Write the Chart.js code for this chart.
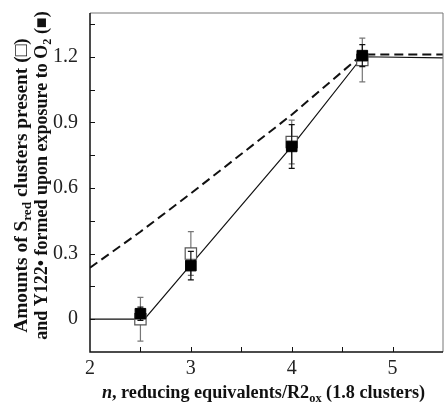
<!DOCTYPE html>
<html>
<head>
<meta charset="utf-8">
<script src="https://cdn.jsdelivr.net/npm/chart.js@4"></script>
<style>
  html, body { margin: 0; padding: 0; background: #fff; overflow: hidden; }
  #wrap { width: 445px; height: 402px; }
</style>
</head>
<body>
<div id="wrap"><canvas id="chart"></canvas></div>
<script>
// measured points
let xPts = [2.5, 3, 4, 4.7];
let sredY = [0.0, 0.30, 0.81, 1.185];
let sredErr = [0.10, 0.10, 0.10, 0.10];
let tyrY = [0.025, 0.245, 0.79, 1.205];
let tyrErr = [0.03, 0.065, 0.10, 0.05];

// fitted solid line
let fitX = [2, 2.54, 3, 4, 4.7, 5.5];
let fitY = [0, 0, 0.25, 0.79, 1.2, 1.195];

// dashed line
let dashX = [2, 2.5, 3, 3.5, 4, 4.7, 5.5];
let dashY = [0.235, 0.40, 0.575, 0.755, 0.935, 1.21, 1.21];

let xTicks = [2, 3, 4, 5];
let yTicks = [0, 0.3, 0.6, 0.9, 1.2];
let xMinor = [2.5, 3, 3.5, 4, 4.5, 5];
let yMinor = [0, 0.15, 0.3, 0.45, 0.6, 0.75, 0.9, 1.05, 1.2, 1.35];

const FONT = "'Liberation Serif', 'Times New Roman', serif";

const toXY = (xs, ys) => xs.map((x, i) => ({x: x, y: ys[i]}));

// draw text with subscripts / italics, centred at (cx, cy)
function richText(ctx, segs, cx, cy, size) {
  let w = 0;
  segs.forEach(s => {
    let fs = s.sub ? size * 0.68 : size;
    ctx.font = `${s.italic ? 'italic ' : ''}bold ${fs}px ${FONT}`;
    s.w = ctx.measureText(s.t).width;
    s.fs = fs;
    w += s.w;
  });
  let x = cx - w / 2;
  ctx.textBaseline = 'middle';
  ctx.textAlign = 'left';
  segs.forEach(s => {
    ctx.font = `${s.italic ? 'italic ' : ''}bold ${s.fs}px ${FONT}`;
    ctx.fillText(s.t, x, cy + (s.sub ? size * 0.3 : 0));
    x += s.w;
  });
}

const errorBars = {
  id: 'errorBars',
  beforeDatasetDraw(chart, args) {
    let ds = chart.data.datasets[args.index];
    let errs = ds.errs;
    if (!errs) return;
    let ctx = chart.ctx, xs = chart.scales.x, ys = chart.scales.y;
    ctx.save();
    ctx.strokeStyle = ds.errColor;
    ctx.lineWidth = 1.2;
    ds.data.forEach((p, i) => {
      let px = xs.getPixelForValue(p.x);
      let top = ys.getPixelForValue(p.y + errs[i]);
      let bot = ys.getPixelForValue(p.y - errs[i]);
      ctx.beginPath();
      ctx.moveTo(px, top); ctx.lineTo(px, bot);
      ctx.moveTo(px - 3, top); ctx.lineTo(px + 3, top);
      ctx.moveTo(px - 3, bot); ctx.lineTo(px + 3, bot);
      ctx.stroke();
    });
    ctx.restore();
  }
};

const frame = {
  id: 'frame',
  afterDraw(chart) {
    let ctx = chart.ctx, a = chart.chartArea;
    let xs = chart.scales.x, ys = chart.scales.y;
    ctx.save();
    ctx.strokeStyle = '#777';
    ctx.lineWidth = 1;
    ctx.beginPath();
    ctx.moveTo(a.left, a.top); ctx.lineTo(a.right, a.top); ctx.lineTo(a.right, a.bottom);
    ctx.stroke();
    ctx.strokeStyle = '#111';
    ctx.lineWidth = 1.5;
    ctx.beginPath();
    ctx.moveTo(a.left, a.top); ctx.lineTo(a.left, a.bottom); ctx.lineTo(a.right, a.bottom);
    ctx.stroke();
    ctx.lineWidth = 1;
    ctx.beginPath();
    yMinor.forEach(v => {
      let py = Math.round(ys.getPixelForValue(v)) + 0.5;
      ctx.moveTo(a.left, py); ctx.lineTo(a.left + 5, py);
    });
    xMinor.forEach(v => {
      let px = Math.round(xs.getPixelForValue(v)) + 0.5;
      ctx.moveTo(px, a.bottom); ctx.lineTo(px, a.bottom - 5);
    });
    ctx.stroke();

    // axis titles
    ctx.fillStyle = '#111';
    let cx = (a.left + a.right) / 2;
    richText(ctx, [
      {t: 'n', italic: true},
      {t: ', reducing equivalents/R2'},
      {t: 'ox', sub: true},
      {t: ' (1.8 clusters)'}
    ], cx - 3, 393, 18.2);

    let cy = (a.top + a.bottom) / 2;
    ctx.save();
    ctx.translate(22, cy + 3);
    ctx.rotate(-Math.PI / 2);
    richText(ctx, [
      {t: 'Amounts of S'},
      {t: 'red', sub: true},
      {t: ' clusters present (□)'}
    ], 0, 0, 19.4);
    ctx.restore();
    ctx.save();
    ctx.translate(42, cy - 7);
    ctx.rotate(-Math.PI / 2);
    richText(ctx, [
      {t: 'and Y122\u2022 formed upon exposure to O'},
      {t: '2', sub: true},
      {t: ' (■)'}
    ], 0, 0, 18);
    ctx.restore();
    ctx.restore();
  }
};

const noPad = s => { s.paddingTop = 0; s.paddingBottom = 0; s.paddingLeft = 0; s.paddingRight = 0; };

new Chart(document.getElementById('chart'), {
  type: 'scatter',
  data: {
    datasets: [
      {
        data: toXY(fitX, fitY),
        showLine: true,
        borderColor: '#111',
        borderWidth: 1.2,
        pointRadius: 0,
        tension: 0,
        order: 4,
      },
      {
        data: toXY(dashX, dashY),
        showLine: true,
        borderColor: '#111',
        borderWidth: 2,
        borderDash: [9, 5],
        pointRadius: 0,
        tension: 0,
        order: 3,
      },
      {
        data: toXY(xPts, sredY),
        errs: sredErr,
        errColor: '#777',
        pointStyle: 'rect',
        pointRadius: 8,
        backgroundColor: '#fff',
        borderColor: '#555',
        borderWidth: 1.2,
        order: 2,
      },
      {
        data: toXY(xPts, tyrY),
        errs: tyrErr,
        errColor: '#111',
        pointStyle: 'rect',
        pointRadius: 7.5,
        backgroundColor: '#000',
        borderColor: '#000',
        borderWidth: 1,
        order: 1,
      },
    ],
  },
  options: {
    responsive: true,
    maintainAspectRatio: false,
    animation: false,
    layout: { autoPadding: false, padding: { top: 13, right: 2, left: 0, bottom: 0 } },
    plugins: { legend: { display: false }, tooltip: { enabled: false } },
    scales: {
      x: {
        type: 'linear',
        min: 2, max: 5.5,
        grid: { display: false, drawTicks: false },
        border: { display: false },
        afterBuildTicks: s => { s.ticks = xTicks.map(v => ({value: v})); },
        afterFit: s => { s.height = 50; noPad(s); },
        ticks: { color: '#222', padding: 5, font: { family: FONT, size: 20 } },
      },
      y: {
        min: -0.15, max: 1.4,
        grid: { display: false, drawTicks: false },
        border: { display: false },
        afterBuildTicks: s => { s.ticks = yTicks.map(v => ({value: v})); },
        afterFit: s => { s.width = 90; noPad(s); },
        ticks: { color: '#222', padding: 12, font: { family: FONT, size: 20 },
                 callback: v => String(v) },
      },
    },
  },
  plugins: [errorBars, frame],
});
</script>
</body>
</html>
